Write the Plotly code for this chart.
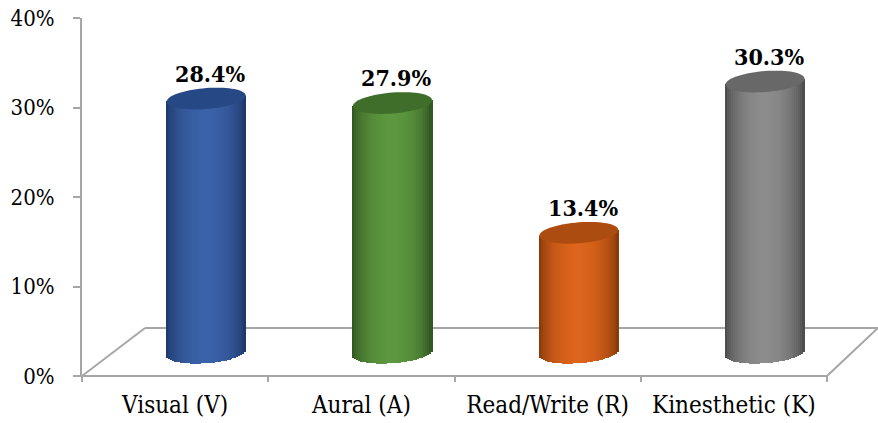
import numpy as np
import plotly.graph_objects as go

# ---- data -------------------------------------------------------------
categories = ["Visual (V)", "Aural (A)", "Read/Write (R)", "Kinesthetic (K)"]
percentages = [28.4, 27.9, 13.4, 30.3]
y_tick_values = [0, 10, 20, 30, 40]
y_tick_labels = ["0%", "10%", "20%", "30%", "40%"]

# cylinder shading: bright centre, dark rim, darker cap
body_light = ["#3a62a8", "#5c983f", "#dc641c", "#8c8c8c"]
body_dark = ["#1b3160", "#2b4c1c", "#7a3306", "#424242"]
cap_colors = ["#264885", "#3f6e2b", "#ad4c10", "#686868"]

# ---- pseudo-3D geometry (axis units) ----------------------------------
W, H = 878, 423
M_L, M_R, M_T, M_B = 82, 0, 18, 47
PLOT_W = W - M_L - M_R
PLOT_H = H - M_T - M_B
X_RANGE = [-0.5, -0.5 + PLOT_W / 186.25]
Y_RANGE = [0, 40]

DEPTH_X = 0.167      # bars sit half-way back on the floor
DEPTH_Y = 2.6
HALF_W = 0.212       # cylinder radius (category units)
CAP_H = 1.17         # ellipse half-height (percent units)
TILT = 0.33          # perspective skew of the ellipses
N_STRIPS = 40

FONT = "DejaVu Serif Condensed, DejaVu Serif, serif"
AXIS_GREY = "#a6a6a6"

idx = np.arange(len(categories))
vals = np.array(percentages)


def mix(c1, c2, w):
    a = np.array([int(c1[i:i + 2], 16) for i in (1, 3, 5)])
    b = np.array([int(c2[i:i + 2], 16) for i in (1, 3, 5)])
    c = np.round(a + (b - a) * w).astype(int)
    return "rgb({},{},{})".format(*c)


fig = go.Figure()

# cylinder bodies: thin vertical strips with a shaded profile
strip_w = 2 * HALF_W / N_STRIPS
for j in range(N_STRIPS):
    u = -1 + (2 * j + 1) / N_STRIPS
    shade = np.cos(np.pi / 2 * u) ** 0.55
    base = -CAP_H * np.sqrt(max(0.0, 1 - u * u)) + TILT * u
    top = vals + TILT * u
    fig.add_trace(go.Bar(
        x=idx + u * HALF_W,
        y=top - base,
        base=[base] * len(idx),
        width=strip_w * 1.6,
        marker=dict(color=[mix(body_dark[k], body_light[k], shade) for k in idx],
                    line=dict(width=0)),
        xaxis="x2", yaxis="y2",
        hoverinfo="skip", showlegend=False,
    ))

# cylinder caps
shapes = []
t = np.linspace(0, 2 * np.pi, 73)
for k in idx:
    xs = k + HALF_W * np.cos(t)
    ys = vals[k] + CAP_H * np.sin(t) + TILT * np.cos(t)
    path = "M " + " L ".join(f"{x:.4f},{y:.4f}" for x, y in zip(xs, ys)) + " Z"
    shapes.append(dict(type="path", path=path, xref="x2", yref="y2",
                       fillcolor=cap_colors[k], line=dict(width=0), layer="above"))


# floor outline (pixel positions converted to paper coordinates)
def px(xp):
    return (xp - M_L) / PLOT_W


def py(yp):
    return (H - M_B - yp) / PLOT_H


floor = [
    ((76, 376), (827, 376)),   # front edge
    ((82, 376), (145, 328)),   # left side
    ((145, 328), (878, 328)),  # back edge
    ((827, 376), (878, 328)),  # right side
    ((827, 376), (827, 381)),  # end tick
]
for (x0, y0), (x1, y1) in floor:
    shapes.append(dict(type="line", xref="paper", yref="paper",
                       x0=px(x0), y0=py(y0), x1=px(x1), y1=py(y1),
                       line=dict(color=AXIS_GREY, width=2), layer="below"))

# value labels
annotations = []
for k in idx:
    annotations.append(dict(
        x=k, y=vals[k] + np.hypot(CAP_H, TILT), xref="x2", yref="y2",
        text=f"<b>{vals[k]:.1f}%</b>", showarrow=False,
        yanchor="bottom", xanchor="center", xshift=4, yshift=-1,
        font=dict(family=FONT, size=23, color="black"),
    ))

fig.update_layout(
    width=W, height=H,
    margin=dict(l=M_L, r=M_R, t=M_T, b=M_B, pad=0),
    paper_bgcolor="white", plot_bgcolor="white",
    barmode="overlay", bargap=0,
    font=dict(family=FONT),
    shapes=shapes, annotations=annotations,
    xaxis=dict(
        type="category", categoryorder="array", categoryarray=categories,
        range=X_RANGE, tickson="boundaries", ticks="outside", ticklen=5,
        tickwidth=2, tickcolor=AXIS_GREY, showline=False, showgrid=False,
        zeroline=False, tickfont=dict(family=FONT, size=24, color="black"),
        ticklabelstandoff=12, tickangle=0, automargin=False,
    ),
    yaxis=dict(
        range=Y_RANGE, tickvals=y_tick_values, ticktext=y_tick_labels,
        ticks="outside", ticklen=7, tickwidth=2, tickcolor=AXIS_GREY,
        showline=True, linecolor=AXIS_GREY, linewidth=2,
        showgrid=False, zeroline=False,
        tickfont=dict(family=FONT, size=22, color="black"),
        ticklabelstandoff=14, automargin=False,
    ),
    xaxis2=dict(overlaying="x", range=[X_RANGE[0] - DEPTH_X, X_RANGE[1] - DEPTH_X],
                visible=False, fixedrange=True),
    yaxis2=dict(overlaying="y", range=[Y_RANGE[0] - DEPTH_Y, Y_RANGE[1] - DEPTH_Y],
                visible=False, fixedrange=True),
)

# category labels reference the visible axis
fig.add_trace(go.Scatter(x=categories, y=[None] * len(categories), mode="markers",
                         showlegend=False, hoverinfo="skip"))

fig.write_html("out.html")
